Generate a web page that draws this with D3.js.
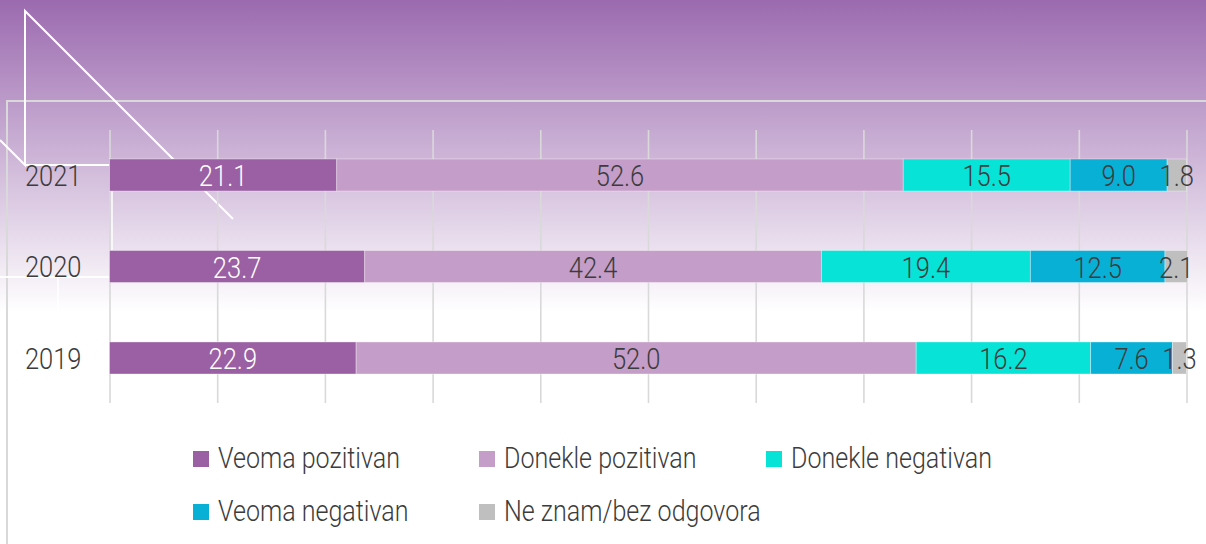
<!DOCTYPE html>
<html>
<head>
<meta charset="utf-8">
<script src="https://cdn.jsdelivr.net/npm/d3@7"></script>
<style>
  html, body { margin: 0; padding: 0; background: #ffffff; }
  svg { display: block; }
  text { font-family: Roboto, "Noto Sans", sans-serif; font-weight: 300; }
</style>
</head>
<body>
<svg id="chart" width="1206" height="544"></svg>
<script>
const years = ["2021", "2020", "2019"];
const seriesNames = ["Veoma pozitivan", "Donekle pozitivan", "Donekle negativan", "Veoma negativan", "Ne znam/bez odgovora"];
const veomaPozitivan   = [21.1, 23.7, 22.9];
const doneklePozitivan = [52.6, 42.4, 52.0];
const donekleNegativan = [15.5, 19.4, 16.2];
const veomaNegativan   = [9.0, 12.5, 7.6];
const neZnam           = [1.8, 2.1, 1.3];
const tickValues = [0, 10, 20, 30, 40, 50, 60, 70, 80, 90, 100];
const colors = ["#9b5fa3", "#c49dc8", "#07e3d6", "#08b0d6", "#bfbfbf"];
const labelColors = ["#ffffff", "#3c3c3c", "#3c3c3c", "#3c3c3c", "#3c3c3c"];

const SX = 0.85; // horizontal condensing of the text face

const seriesValues = [veomaPozitivan, doneklePozitivan, donekleNegativan, veomaNegativan, neZnam];
const rows = years.map((yr, i) => {
  const r = { year: yr };
  seriesNames.forEach((s, k) => r[s] = seriesValues[k][i]);
  return r;
});

const svg = d3.select("#chart");

// background gradient
const defs = svg.append("defs");
const grad = defs.append("linearGradient").attr("id", "bg")
  .attr("gradientUnits", "userSpaceOnUse")
  .attr("x1", 0).attr("y1", 0).attr("x2", 0).attr("y2", 312);
grad.append("stop").attr("offset", "0").attr("stop-color", "#9b6aaf");
grad.append("stop").attr("offset", "1").attr("stop-color", "#ffffff");
svg.append("rect").attr("width", 1206).attr("height", 544).attr("fill", "url(#bg)");

// decorative frame lines
const deco = svg.append("g").attr("fill", "none");
deco.append("path").attr("d", "M7,544 L7,101 L1206,101").attr("stroke", "#d9d9d9").attr("stroke-width", 2);
deco.append("polyline").attr("points", "0,140 25,165 25,11 233,219").attr("stroke", "#ffffff").attr("stroke-width", 2);
deco.append("line").attr("x1", 25).attr("y1", 165).attr("x2", 110).attr("y2", 165).attr("stroke", "#ffffff").attr("stroke-width", 2);
deco.append("line").attr("x1", 0).attr("y1", 277).attr("x2", 110).attr("y2", 277).attr("stroke", "#ffffff").attr("stroke-width", 2);
deco.append("line").attr("x1", 58).attr("y1", 277).attr("x2", 58).attr("y2", 315).attr("stroke", "#ffffff").attr("stroke-width", 1.5);
deco.append("line").attr("x1", 112).attr("y1", 191).attr("x2", 112).attr("y2", 250).attr("stroke", "#ffffff").attr("stroke-width", 1.5);

// scales
const x = d3.scaleLinear().domain([0, 100]).range([109.5, 1186.5]);
const y = d3.scaleBand().domain(years).range([159, 159 + 2 * 91.5 + 32]).paddingInner(0.65).paddingOuter(0);

// grid
const grid = svg.append("g").attr("transform", "translate(0,403)")
  .call(d3.axisBottom(x).tickValues(tickValues).tickSize(-273).tickFormat(""));
grid.select(".domain").remove();
grid.selectAll("line").attr("stroke", "#d9d9d9").attr("stroke-width", 1.6);

// year axis
const yAxis = svg.append("g").attr("transform", "translate(109.5,0)")
  .call(d3.axisLeft(y).tickSize(0).tickPadding(28));
yAxis.select(".domain").remove();
yAxis.selectAll("text")
  .attr("font-size", 30).attr("fill", "#3c3c3c")
  .attr("font-family", 'Roboto, "Noto Sans", sans-serif')
  .attr("font-weight", 300)
  .attr("x", -28 / SX)
  .attr("transform", `scale(${SX},1)`)
  .attr("dy", "0.36em");

// stacked bars
const stack = d3.stack().keys(seriesNames)(rows);
const layers = svg.append("g").selectAll("g").data(stack).join("g")
  .attr("fill", (d, i) => colors[i]);
layers.selectAll("rect").data(d => d).join("rect")
  .attr("x", d => x(d[0]))
  .attr("y", d => y(d.data.year))
  .attr("width", d => x(d[1]) - x(d[0]))
  .attr("height", y.bandwidth())
  .attr("stroke", "rgba(255,255,255,0.45)")
  .attr("stroke-width", 0.8);

// value labels
const labelG = svg.append("g");
stack.forEach((layer, i) => {
  labelG.selectAll(null).data(layer).join("text")
    .attr("transform", d => `translate(${(x(d[0]) + x(d[1])) / 2},${y(d.data.year) + y.bandwidth() / 2 + 11}) scale(${SX},1)`)
    .attr("text-anchor", "middle")
    .attr("font-size", 30)
    .attr("fill", labelColors[i])
    .text(d => d3.format(".1f")(d[1] - d[0]));
});

// legend
const legendPos = [[193, 0], [479, 0], [766, 0], [193, 1], [479, 1]];
const legend = svg.append("g").selectAll("g").data(seriesNames).join("g")
  .attr("transform", (d, i) => `translate(${legendPos[i][0]},${451 + legendPos[i][1] * 53})`);
legend.append("rect").attr("width", 16).attr("height", 16).attr("fill", (d, i) => colors[i]);
legend.append("text")
  .attr("transform", `translate(25,17) scale(${SX},1)`)
  .attr("font-size", 29.5).attr("fill", "#3c3c3c").text(d => d);
</script>
</body>
</html>
